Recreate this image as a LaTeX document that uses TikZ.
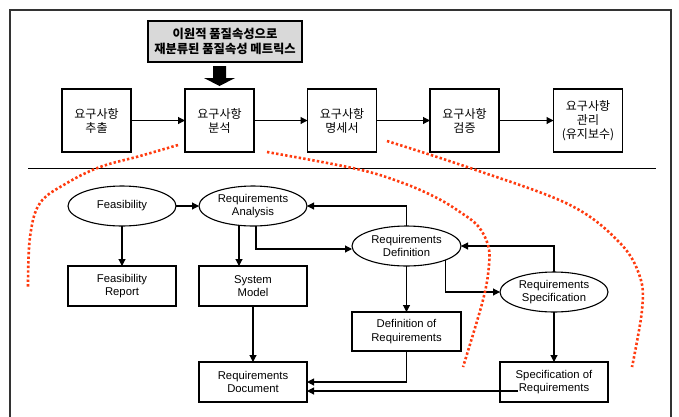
\documentclass[tikz,border=0pt]{standalone}
\usepackage{fontspec}
\setmainfont{Liberation Sans}
\newfontfamily\kr{Noto Sans CJK KR}
\usetikzlibrary{arrows.meta,shapes.geometric}
\definecolor{dotred}{HTML}{FF3B0F}
\tikzset{
  every node/.style={outer sep=0pt, inner sep=0pt},
  krbox/.style={draw, line width=1.1pt, minimum width=69pt, minimum height=63pt, align=center,
    font=\kr\fontsize{12}{14}\selectfont},
  enbox/.style={draw, line width=1.1pt, minimum width=108pt, minimum height=40pt, align=center,
    font=\fontsize{11.3}{13.5}\selectfont},
  enell/.style={draw, ellipse, line width=1.1pt, minimum width=108pt, minimum height=40pt, align=center,
    font=\fontsize{11.3}{13.5}\selectfont},
  arr/.style={line width=1.1pt, -{Triangle[length=7pt,width=7pt]}},
  redline/.style={dotred, line width=2.6pt, dash pattern=on 2.4pt off 2.2pt},
}
\begin{document}
\begin{tikzpicture}[x=1pt,y=-1pt]
\useasboundingbox (0,0) rectangle (679,416);
% frame
\draw[black!80, line width=1.3pt] (10,420) -- (10,10) -- (671,10) -- (671,420);
% top
\node[draw, fill=black!15, line width=1.1pt, minimum width=154pt, minimum height=41pt, align=center,
  font=\kr\bfseries\fontsize{12.3}{15}\selectfont] (gray) at (225,41.5) {이원적 품질속성으로\\재분류된 품질속성 메트릭스};
\fill (213,66) -- (226,66) -- (226,78) -- (235,78) -- (219.5,86) -- (204,78) -- (213,78) -- cycle;
\node[krbox] (b1) at (96.5,120.5) {요구사항\\추출};
\node[krbox] (b2) at (219.5,120.5) {요구사항\\분석};
\node[krbox] (b3) at (342,120.5) {요구사항\\명세서};
\node[krbox] (b4) at (464.5,120.5) {요구사항\\검증};
\node[krbox] (b5) at (588,120.5) {요구사항\\관리\\(유지보수)};
\draw[arr] (b1) -- (b2);
\draw[arr] (b2) -- (b3);
\draw[arr] (b3) -- (b4);
\draw[arr] (b4) -- (b5);
% separator
\coordinate (sepL) at (28,168.5);
\coordinate (sepR) at (656,168.5);
\draw[line width=1.1pt] (sepL) -- (sepR);
% lower
\node[enell] (feas) at (122,206) {Feasibility};
\node[enell] (anal) at (253,206) {Requirements\\Analysis};
\node[enell, minimum width=109pt] (def) at (406.5,246) {Requirements\\Definition};
\node[enell] (spec) at (554,292) {Requirements\\Specification};
\node[enbox] (feasrep) at (122,286) {Feasibility\\Report};
\node[enbox] (sysmod) at (253,286) {System\\Model};
\node[enbox] (reqdoc) at (253,382) {Requirements\\Document};
\node[enbox, minimum width=109pt, minimum height=39pt] (defreq) at (406.5,331.5) {Definition of\\Requirements};
\node[enbox] (specreq) at (554,382) {Specification of\\Requirements};
\draw[arr] (feas) -- (anal);
\draw[arr] (feas) -- (feasrep);
\draw[arr] ([xshift=-14pt]anal.south) -- ([xshift=-14pt]sysmod.north);
\draw[arr] ([xshift=3pt]anal.south) |- ([yshift=-3pt]def.west);
\draw[arr] (def.north) |- (anal.east);
\draw[arr] (def) -- (defreq);
\draw[arr] (def.-20) |- (spec.west);
\draw[arr] (spec.north) |- (def.east);
\draw[arr] (spec) -- (specreq);
\draw[arr] (sysmod) -- (reqdoc);
\draw[arr] (defreq.south) |- (reqdoc.east);
\draw[arr] ([shift={(18pt,-9pt)}]specreq.west) -- ([yshift=-9pt]reqdoc.east);
% red dotted curves
\draw[redline] plot[smooth, tension=0.6] coordinates {(178,145) (140,156) (100,167) (67,183) (40,203) (30,237) (28,287)};
\draw[redline] plot[smooth, tension=0.6] coordinates {(267,152) (357,169) (403,183) (437,198) (460,212) (478,226) (488,245) (489,265) (483,300) (463,367)};
\draw[redline] plot[smooth, tension=0.6] coordinates {(387,141) (473,169) (570,205) (620,243) (640,277) (642,310) (632,367)};
\end{tikzpicture}
\end{document}
